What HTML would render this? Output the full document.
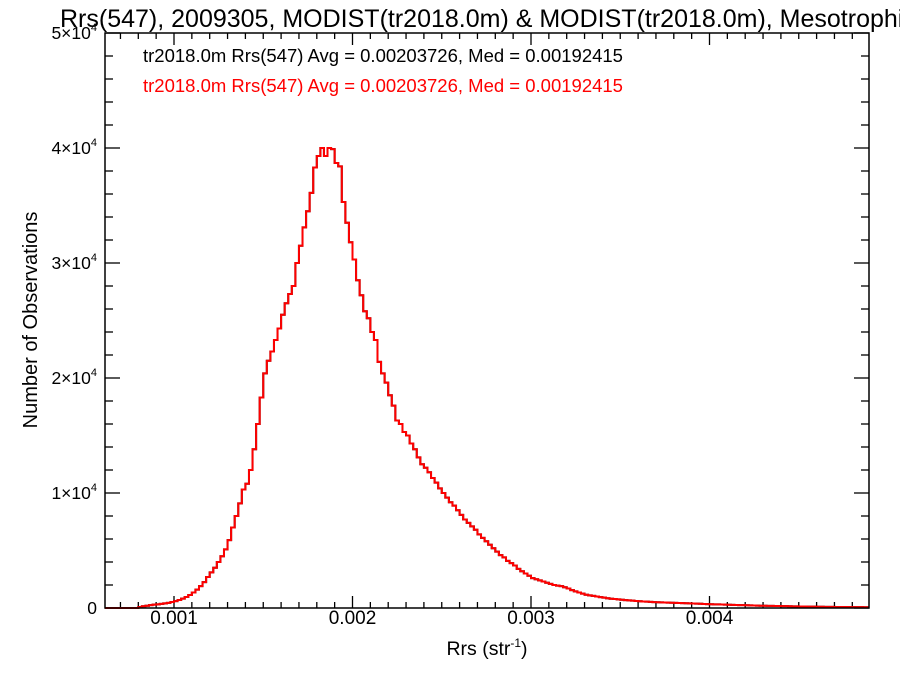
<!DOCTYPE html>
<html><head><meta charset="utf-8"><style>
body{margin:0;background:#fff}
svg{display:block;font-family:"Liberation Sans",Arial,sans-serif}
</style></head><body>
<svg id="chart" width="900" height="675" viewBox="0 0 900 675">
<text x="60" y="27" font-size="25" fill="#000">Rrs(547), 2009305, MODIST(tr2018.0m) &amp; MODIST(tr2018.0m), Mesotrophic</text>
<text x="143" y="62" font-size="18.5" fill="#000">tr2018.0m Rrs(547) Avg = 0.00203726, Med = 0.00192415</text>
<text x="143" y="92" font-size="18.5" fill="#ff0000">tr2018.0m Rrs(547) Avg = 0.00203726, Med = 0.00192415</text>
<text transform="translate(37,320) rotate(-90)" text-anchor="middle" font-size="20">Number of Observations</text>
<text x="487" y="655" text-anchor="middle" font-size="19.5">Rrs (str<tspan font-size="12" dy="-8">-1</tspan><tspan dy="8">)</tspan></text>
<g id="axes"></g>
<g id="series"></g>
<rect x="105" y="33" width="764" height="575" fill="none" stroke="#000" stroke-width="1.5"/>
</svg>
<script>
const binStart = 0.0006;
const binWidth = 0.00002;
const counts1 = [0,0,0,0,0,0,0,0,0,0,
80,150,200,250,290,320,360,400,450,520,
600,700,820,960,1130,1350,1600,1900,2250,2700,
3100,3500,4000,4500,5100,5900,7000,8000,9100,10300,
10800,12000,13800,16000,18300,20400,21500,22300,23300,24300,
25500,26500,27300,28000,30000,31500,33100,34500,36100,38300,
39300,40000,39300,40000,39900,38700,38400,35300,33500,31800,
30300,28500,27200,25800,25200,24000,23300,21400,20400,19600,
18500,17600,16300,16000,15300,15000,14300,13800,13100,12500,
12200,11800,11300,10900,10400,10000,9600,9200,8900,8500,
8100,7700,7400,7100,6800,6400,6100,5800,5500,5200,
4900,4600,4400,4100,3900,3700,3400,3200,3000,2800,
2600,2500,2400,2300,2200,2100,2000,1950,1900,1800,
1700,1550,1450,1350,1250,1150,1100,1050,1000,950,
900,850,800,780,750,720,690,660,640,610,
590,570,550,530,510,500,490,480,470,460,
450,440,420,410,400,390,380,370,350,340,
330,320,310,300,290,280,270,260,255,250,
240,230,220,210,200,195,190,180,175,170,
165,160,150,145,140,135,130,125,120,115,
110,105,100,100,95,90,90,85,85,80,
80,75,75,70,70];
const xTickValues = [0.001,0.002,0.003,0.004];
const xTickLabels = ["0.001","0.002","0.003","0.004"];
const yTickValues = [0,10000,20000,30000,40000,50000];
const yTickLabels = ["0","1","2","3","4","5"];

const L=105,R=869,T=33,B=608;
function xs(v){return 174+(v-0.001)*178500;}
function ys(v){return B-(v/50000)*(B-T);}
const NS="http://www.w3.org/2000/svg";
const axes=document.getElementById('axes');
function ln(x1,y1,x2,y2,name){const l=document.createElementNS(NS,'line');
l.setAttribute('x1',x1);l.setAttribute('y1',y1);l.setAttribute('x2',x2);l.setAttribute('y2',y2);
l.setAttribute('stroke','#000');l.setAttribute('stroke-width','1.3');


axes.appendChild(l);}
for(let k=6;k<=48;k++){const v=k*0.0001;const x=xs(v);if(x<L||x>R)continue;
 const major=k%10===0;const len=major?12:6;
 ln(x,B,x,B-len,'x-tick');ln(x,T,x,T+len,'x-tick-top');}
for(let k=0;k<=25;k++){const v=k*2000;const y=ys(v);const major=k%5===0;const len=major?15:8;
 ln(L,y,L+len,y,'y-tick');ln(R,y,R-len,y,'y-tick-right');}
xTickValues.forEach((v,i)=>{const t=document.createElementNS(NS,'text');
 t.setAttribute('x',xs(v));t.setAttribute('y',624);t.setAttribute('text-anchor','middle');t.setAttribute('font-size','19');
 t.textContent=xTickLabels[i];
 
 
 axes.appendChild(t);});
yTickValues.forEach((v,i)=>{const t=document.createElementNS(NS,'text');
 t.setAttribute('x',97);t.setAttribute('y',ys(v)+6);t.setAttribute('text-anchor','end');t.setAttribute('font-size','17.5');
 if(v===0){t.textContent='0';}else{t.textContent=yTickLabels[i]+'\u00d710';const s=document.createElementNS(NS,'tspan');
  s.setAttribute('font-size','11');s.setAttribute('dy','-8');s.textContent='4';t.appendChild(s);}
 
 
 axes.appendChild(t);});
function stepPath(arr){let d='';
 arr.forEach((c,i)=>{const x0=Math.max(L,xs(binStart+i*binWidth)),x1=Math.min(R,xs(binStart+(i+1)*binWidth));const y=ys(c);
  if(i===0)d+='M'+x0+','+y;else d+='L'+x0+','+y;d+='L'+x1+','+y;});
 return d;}
const g=document.getElementById('series');
const p1=document.createElementNS(NS,'path');
p1.setAttribute('d',stepPath(counts1));p1.setAttribute('fill','none');p1.setAttribute('stroke','#000');p1.setAttribute('stroke-width','2');


g.appendChild(p1);
const p2=document.createElementNS(NS,'path');
p2.setAttribute('d',stepPath(counts1));p2.setAttribute('fill','none');p2.setAttribute('stroke','#ff0000');p2.setAttribute('stroke-width','2');


g.appendChild(p2);
</script>
</body></html>
